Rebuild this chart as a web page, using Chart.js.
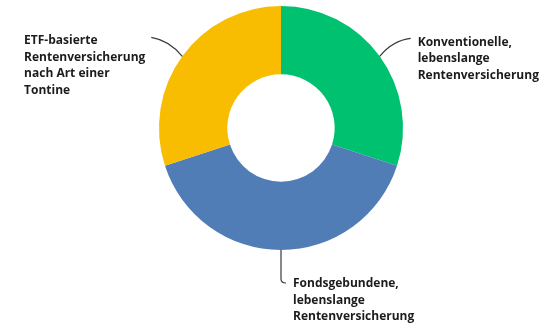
<!DOCTYPE html>
<html lang="de">
<head>
  <meta charset="UTF-8" />
  <title>Rentenversicherung – Anteile</title>
  <script src="https://cdn.jsdelivr.net/npm/chart.js"></script>
  <style>
    html, body { margin: 0; padding: 0; background: #fff; }
    #wrap { width: 547px; height: 323px; position: relative; }
  </style>
</head>
<body>
  <div id="wrap">
    <canvas id="donutChart"></canvas>
  </div>

  <script>
    // Anteile der drei Varianten
    const labels = [
      ['Konventionelle,', 'lebenslange', 'Rentenversicherung'],
      ['Fondsgebundene,', 'lebenslange', 'Rentenversicherung'],
      ['ETF-basierte', 'Rentenversicherung', 'nach Art einer', 'Tontine']
    ];
    const shares = [30, 40, 30];
    const colors = ['#00c16f', '#507db5', '#f8bd00'];

    const FONT = 'bold 12px "Open Sans", sans-serif';
    const LINE_H = 16.5;

    // Beschriftungen mit geschwungenen Verbindungslinien
    const calloutPlugin = {
      id: 'callouts',
      afterDatasetsDraw(chart) {
        const ctx = chart.ctx;
        const arcs = chart.getDatasetMeta(0).data;
        ctx.save();
        ctx.font = FONT;
        ctx.fillStyle = '#1c1c1c';
        ctx.strokeStyle = '#3a3a3a';
        ctx.lineWidth = 1.2;
        ctx.textBaseline = 'alphabetic';

        arcs.forEach((arc, i) => {
          const mid = (arc.startAngle + arc.endAngle) / 2;
          const sx = arc.x + Math.cos(mid) * arc.outerRadius;
          const sy = arc.y + Math.sin(mid) * arc.outerRadius;
          const lines = labels[i];
          ctx.beginPath();
          ctx.moveTo(sx, sy);
          let tx, ty;
          if (i === 0) {
            // rechts oben
            const ex = sx + 31, ey = sy - 18;
            ctx.quadraticCurveTo(sx + 13, sy - 16, ex, ey);
            tx = ex + 7; ty = ey + 7.5;
          } else if (i === 1) {
            // unten
            const ey = sy + 33;
            ctx.lineTo(sx, ey - 4);
            ctx.quadraticCurveTo(sx, ey, sx + 5, ey);
            tx = sx + 12; ty = ey + 4;
          } else {
            // links oben
            const ex = sx - 31, ey = sy - 19;
            ctx.quadraticCurveTo(sx - 13, sy - 16, ex, ey);
            const w = Math.max(...lines.map(l => ctx.measureText(l).width));
            tx = ex - 6 - w; ty = ey + 7;
          }
          ctx.stroke();
          ctx.textAlign = 'left';
          lines.forEach((l, k) => ctx.fillText(l, tx, ty + k * LINE_H));
        });
        ctx.restore();
      }
    };

    new Chart(document.getElementById('donutChart'), {
      type: 'doughnut',
      data: {
        labels: labels.map(l => l.join(' ')),
        datasets: [{
          data: shares,
          backgroundColor: colors,
          borderWidth: 0,
          hoverOffset: 0
        }]
      },
      options: {
        responsive: true,
        maintainAspectRatio: false,
        animation: false,
        cutout: '44%',
        layout: { padding: { top: 6, bottom: 73, left: 159, right: 144 } },
        plugins: {
          legend: { display: false },
          tooltip: { enabled: false }
        }
      },
      plugins: [calloutPlugin]
    });
  </script>
</body>
</html>
